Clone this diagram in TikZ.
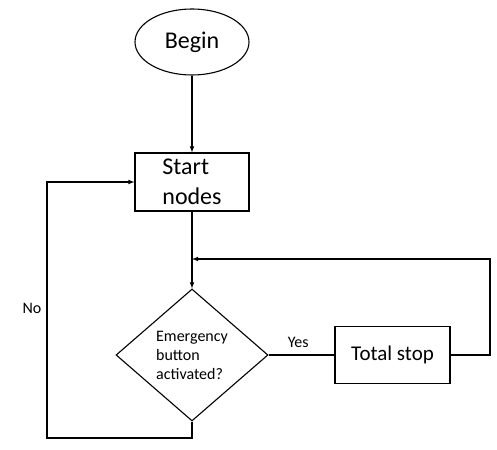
\documentclass[tikz,border=0pt]{standalone}
\usepackage{fontspec}
\setmainfont{Carlito}
\usetikzlibrary{shapes,arrows,positioning}

\begin{document}
\begin{tikzpicture}[x=1pt,y=1pt,line width=1.1pt,
  terminal/.style={draw,ellipse,minimum width=114pt,minimum height=66pt,font=\fontsize{24}{29}\selectfont},
  process/.style={draw,rectangle,minimum width=114pt,minimum height=58pt,align=left,font=\fontsize{24}{30}\selectfont},
  halt/.style={draw,rectangle,minimum width=115pt,minimum height=57pt,font=\fontsize{21}{25}\selectfont},
  decision/.style={draw,diamond,aspect=1.15,inner sep=0pt,minimum width=152pt,minimum height=132pt,align=left,font=\fontsize{16}{19}\selectfont},
  tag/.style={font=\fontsize{16}{19}\selectfont}]
\useasboundingbox (0,0) rectangle (497,449);
% boxes
\node[terminal] (begin) at (192,407) {Begin};
\node[process] (start) at (192,267) {Start\\nodes};
\node[decision] (check) at (192,94) {Emergency\\button\\activated?};
\node[halt] (stop) at (392.5,94) {Total stop};
% corners
\coordinate (merge) at (192,190);
\coordinate (back) at (490,190);
\coordinate (low) at (192,11);
\coordinate (lowleft) at (47,11);
% flow
\draw[-latex] (begin) -- (start);
\draw[-latex] (start) -- (check);
\draw (check) -- node[tag,above,pos=0.45,yshift=3pt] {Yes} (stop);
\draw[-latex] (stop.east) -| (back) -- (merge);
\draw[-latex] (check.south) -- (low) -- (lowleft) |- (start.west);
\node[tag] (no) at (32,141) {No};
\end{tikzpicture}
\end{document}
